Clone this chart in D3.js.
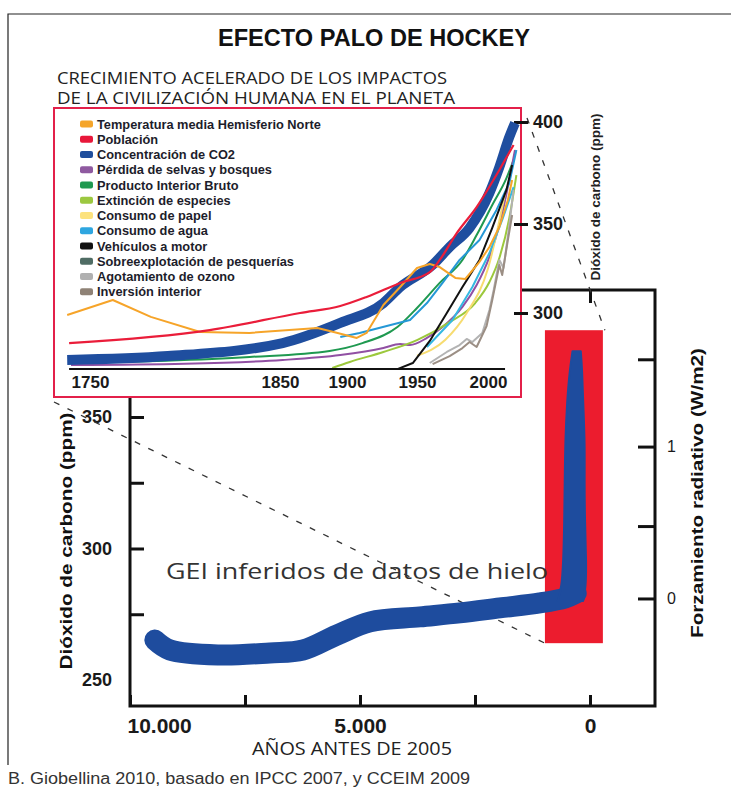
<!DOCTYPE html>
<html><head><meta charset="utf-8">
<script src="https://cdn.jsdelivr.net/npm/d3@7"></script>
<style>body{margin:0;background:#fff}svg{display:block}</style>
</head><body><svg id="c" width="731" height="795"></svg>
<script>
// ---------------- DATA ----------------
const title = "EFECTO PALO DE HOCKEY";
const subtitle = ["CRECIMIENTO ACELERADO DE LOS IMPACTOS", "DE LA CIVILIZACIÓN HUMANA EN EL PLANETA"];
const insetXTicks = [1750, 1850, 1900, 1950, 2000];
const insetYTicks = [300, 350, 400];
const mainXTicks = [10000, 7500, 5000, 2500, 0];
const mainXLabels = [10000, 5000, 0];
const mainYTicks = [250, 275, 300, 325, 350];
const mainYLabels = [250, 300, 350];
const forcingTicks = [0, 0.5, 1, 1.5];
const forcingLabels = [0, 1];

const legendNames = ["Temperatura media Hemisferio Norte","Población","Concentración de CO2","Pérdida de selvas y bosques","Producto Interior Bruto","Extinción de especies","Consumo de papel","Consumo de agua","Vehículos a motor","Sobreexplotación de pesquerías","Agotamiento de ozono","Inversión interior"];
const legendColors = ["#f5a52a","#e8173a","#1f4e9c","#8f5aa0","#1f9950","#9cc840","#fce27e","#2ea6e0","#111111","#4f6c64","#b0b0b0","#8f8276"];

// inset series (year, value on the CO2 ppm axis)
const tempYears = [1738,1762,1782,1808,1834,1878,1893,1907,1914,1926,1938,1950,1959,1966,1977,1984,1994,2001,2008,2014,2017];
const tempVals  = [298.9,307.3,297.8,289.3,288.8,291.6,288.8,286.0,288.8,304.5,314.6,325.3,327.5,325.8,319.7,319.1,328.7,337.1,348.3,361.8,371.6];
const popYears = [1739,1813,1865,1895,1914,1938,1959,1966,1978,1992,2008,2018];
const popVals  = [283.1,290.4,300,303.9,309.0,316.9,323.0,329.8,344.9,358.3,376.5,388.7];
const co2Years = [1738,1791,1852,1895,1926,1938,1961,1973,1987,2001,2008,2015,2019];
const co2Vals  = [273.6,275.8,283.1,294.4,305.6,314.6,327.0,337.1,347.8,365.2,377.9,392.6,399.5];
const forestYears = [1740,1800,1852,1895,1926,1938,1945,1957,1968,1982,1992,2001,2008,2015,2019];
const forestVals  = [270.8,271.5,273.6,276.4,280.3,282.6,282.0,286.0,292.1,303.4,315.7,331.5,349.4,371.6,386.3];
const gdpYears = [1739,1790,1834,1887,1911,1936,1950,1966,1982,1992,2003,2013,2018];
const gdpVals  = [272.0,273.2,275.3,278.7,283.1,292.1,302.8,316.9,329.8,343.8,359.3,372.5,381.4];
const extYears = [1889,1902,1926,1950,1973,1991,2001,2008,2015,2020];
const extVals  = [269.1,272.5,278.1,284.8,294.9,305.6,317.4,330.9,352.9,374.0];
const paperYears = [1950,1970,1985,2000,2012];
const paperVals  = [276,285,300,325,365];
const waterYears = [1895,1909,1945,1957,1968,1980,1994,2006,2015,2020];
const waterVals  = [286.5,288.8,296.1,305.6,316.9,329.8,341.0,356.9,370.1,386.3];
const vehYears = [1887,1936,1947,1959,1971,1982,1994,2003,2013,2017];
const vehVals  = [268.5,268.5,271.9,284.3,300,314.6,329.8,347.8,366.7,378.9];
const fishYears = [1957,1975,1989,2001,2010,2018];
const fishVals  = [280.9,296.1,314.6,333.7,352.0,368.1];
const ozoneYears = [1959,1971,1980,1985,1989,1996,2001,2004,2008,2011,2015,2018];
const ozoneVals  = [271.9,278.1,282.0,285.4,283.7,288.8,301.7,312.9,329.8,325.3,349.4,366.7];
const invYears = [1961,1973,1982,1987,1992,1999,2003,2008,2010,2014,2017];
const invVals  = [271.3,275.8,280.3,283.7,280.9,292.7,307.3,327.0,321.3,341.0,354.4];

// main chart: ice-core CO2 (years before 2005, ppm)
const iceYears = [9460,9130,8040,6960,6240,5500,4780,3700,2830,1960,1090,540,300];
const icePpm   = [265.2,261.4,259.5,260.3,261.4,267.1,272.1,274.0,275.5,277.4,279.3,281.2,283];
// industrial-era column: ppm levels with left / right extent (years before 2005)
const colPpm   = [280, 285, 295, 310, 325, 340, 356, 368, 375];
const colLeft  = [700, 620, 580, 560, 550, 540, 500, 440, 380];
const colRight = [150, 90, 80, 110, 120, 110, 150, 170, 200];
const highlightYears = [980, -280];
const highlightPpm = [264, 383];
const forcingRefPpm = 281;

// ---------------- DRAW ----------------
const svg = d3.select("#c");
const SANS = "'Liberation Sans', Arial, sans-serif";
const MYR = "'Open Sans', 'Noto Sans', sans-serif";
svg.append("rect").attr("width",731).attr("height",795).attr("fill","#fff");
svg.append("path").attr("d","M8,765 V14 H731").attr("fill","none").attr("stroke","#222").attr("stroke-width",1.2);

svg.append("text").attr("x",374).attr("y",46).attr("text-anchor","middle")
  .attr("font-family",SANS).attr("font-weight","bold").attr("font-size",23)
  .attr("textLength",312).attr("lengthAdjust","spacingAndGlyphs").attr("fill","#111").text(title);
svg.selectAll(".sub").data(subtitle).join("text").attr("class","sub")
  .attr("x",57).attr("y",(d,i)=>84+i*20).attr("font-family",MYR).attr("font-size",16).attr("fill","#222")
  .attr("textLength",(d,i)=>i?398:390).attr("lengthAdjust","spacingAndGlyphs").text(d=>d);

// main scales
const xM = d3.scaleLinear().domain([10000,0]).range([130,590]);
const yM = d3.scaleLinear().domain([250,350]).range([680,417]);
const fS = d3.scaleLinear().domain(forcingTicks).range(forcingTicks.map(f=>yM(forcingRefPpm*Math.exp(f/5.35))));
const fmt = d3.formatLocale({decimal:",",thousands:".",grouping:[3],currency:["",""]}).format(",");

// highlight rectangle
svg.append("rect").attr("x",xM(highlightYears[0])).attr("y",yM(highlightPpm[1]))
  .attr("width",xM(highlightYears[1])-xM(highlightYears[0])).attr("height",yM(highlightPpm[0])-yM(highlightPpm[1]))
  .attr("fill","#ec1c2e");

// frame
svg.append("rect").attr("x",130).attr("y",290).attr("width",525).attr("height",416)
  .attr("fill","none").attr("stroke","#111").attr("stroke-width",3);

function styleAxis(g, fs, weight){
  g.select(".domain").remove();
  g.selectAll(".tick line").attr("stroke","#111").attr("stroke-width",3);
  g.selectAll(".tick text").attr("font-family",SANS).attr("font-size",fs).attr("font-weight",weight).attr("fill","#1a1a1a");
}
const gB = svg.append("g").attr("transform","translate(0,706)")
  .call(d3.axisBottom(xM).tickValues(mainXTicks).tickSize(-11).tickPadding(12).tickFormat(d=>mainXLabels.includes(d)?fmt(d):""));
styleAxis(gB,21,"bold");
gB.selectAll(".tick text").filter(d=>d===10000).attr("text-anchor","start").attr("dx",-3);
const gT = svg.append("g").attr("transform","translate(0,290)")
  .call(d3.axisTop(xM).tickValues([0]).tickSize(-13).tickFormat(""));
styleAxis(gT,10,"normal");
const gL = svg.append("g").attr("transform","translate(130,0)")
  .call(d3.axisLeft(yM).tickValues(mainYTicks).tickSize(-14).tickPadding(18).tickFormat(d=>mainYLabels.includes(d)?d:""));
styleAxis(gL,18,"bold");
gL.selectAll(".tick").filter(d=>d===250).select("line").remove();
const gR = svg.append("g").attr("transform","translate(655,0)")
  .call(d3.axisRight(fS).tickValues(forcingTicks).tickSize(-17).tickPadding(12).tickFormat(d=>forcingLabels.includes(d)?d:""));
styleAxis(gR,16,"normal");

// axis titles
svg.append("text").attr("transform","translate(72,541) rotate(-90)").attr("text-anchor","middle")
  .attr("font-family",SANS).attr("font-weight","bold").attr("font-size",17).attr("fill","#111")
  .attr("textLength",257).attr("lengthAdjust","spacingAndGlyphs").text("Dióxido de carbono (ppm)");
svg.append("text").attr("transform","translate(703,493) rotate(-90)").attr("text-anchor","middle")
  .attr("font-family",SANS).attr("font-weight","bold").attr("font-size",17).attr("fill","#111")
  .attr("textLength",290).attr("lengthAdjust","spacingAndGlyphs").text("Forzamiento radiativo (W/m2)");
svg.append("text").attr("x",352).attr("y",755).attr("text-anchor","middle")
  .attr("font-family",MYR).attr("font-size",18).attr("fill","#222")
  .attr("textLength",200).attr("lengthAdjust","spacingAndGlyphs").text("AÑOS ANTES DE 2005");
svg.append("text").attr("x",8).attr("y",784).attr("font-family",SANS).attr("font-size",16).attr("fill","#333")
  .attr("textLength",462).attr("lengthAdjust","spacingAndGlyphs").text("B. Giobellina 2010, basado en IPCC 2007, y CCEIM 2009");

// inset geometry
const inset = {x:54, y:108, w:467, h:289};
const xI = d3.scaleLinear().domain(insetXTicks).range([90,280,347,417,488]);
const yI = d3.scaleLinear().domain(insetYTicks).range([313,224,122]);

// dashed connectors
const dash = [
  [[inset.x+inset.w+6, yI(402)], [xM(highlightYears[1])+2, yM(highlightPpm[1])]],
  [[inset.x, inset.y+inset.h+5], [xM(highlightYears[0]), yM(highlightPpm[0])]]
];
svg.selectAll(".dash").data(dash).join("line").attr("class","dash")
  .attr("x1",d=>d[0][0]).attr("y1",d=>d[0][1]).attr("x2",d=>d[1][0]).attr("y2",d=>d[1][1])
  .attr("stroke","#333").attr("stroke-width",1.3).attr("stroke-dasharray","6,9");

svg.append("text").attr("x",166).attr("y",579).attr("font-family",MYR).attr("font-size",21).attr("fill","#333")
  .attr("textLength",382).attr("lengthAdjust","spacingAndGlyphs").text("GEI inferidos de datos de hielo");

// ice core
const iceLine = d3.line().x(d=>xM(d[0])).y(d=>yM(d[1])).curve(d3.curveCatmullRom.alpha(0.5));
svg.append("path").datum(iceYears.map((y,i)=>[y,icePpm[i]])).attr("d",iceLine)
  .attr("fill","none").attr("stroke","#1e4c9e").attr("stroke-width",21)
  .attr("stroke-linejoin","round").attr("stroke-linecap","round");
const colArea = d3.area().y(d=>yM(d[0])).x0(d=>xM(d[1])).x1(d=>xM(d[2])).curve(d3.curveBasis);
svg.append("path").datum(colPpm.map((p,i)=>[p,colLeft[i],colRight[i]])).attr("d",colArea)
  .attr("fill","#1e4c9e").attr("stroke","#1e4c9e").attr("stroke-width",2).attr("stroke-linejoin","round");

// inset box
svg.append("rect").attr("x",inset.x).attr("y",inset.y).attr("width",inset.w).attr("height",inset.h)
  .attr("fill","#fff").attr("stroke","#e3204a").attr("stroke-width",2);

const gi = svg.append("g");
gi.append("line").attr("x1",xI(1739)).attr("x2",xI(2012)).attr("y1",369).attr("y2",369).attr("stroke","#111").attr("stroke-width",2);
const gIX = gi.append("g").attr("transform","translate(0,369)")
  .call(d3.axisBottom(xI).tickValues(insetXTicks).tickSize(0).tickPadding(7).tickFormat(d3.format("d")));
styleAxis(gIX,17,"bold");
const gIY = gi.append("g").attr("transform","translate(514,0)")
  .call(d3.axisRight(yI).tickValues(insetYTicks).tickSize(14).tickPadding(5));
styleAxis(gIY,18,"bold");
gi.append("text").attr("transform","translate(600,197) rotate(-90)").attr("text-anchor","middle")
  .attr("font-family",SANS).attr("font-weight","bold").attr("font-size",12.5).attr("fill","#222")
  .attr("textLength",167).attr("lengthAdjust","spacingAndGlyphs").text("Dióxido de carbono (ppm)");

// legend
const lg = gi.selectAll(".lg").data(legendNames).join("g").attr("class","lg")
  .attr("transform",(d,i)=>`translate(80,${124+i*15.25})`);
lg.append("rect").attr("x",0).attr("y",-3.5).attr("width",13).attr("height",7).attr("rx",2)
  .attr("fill",(d,i)=>legendColors[i]);
lg.append("text").attr("x",17).attr("y",4.5).attr("font-family",SANS).attr("font-weight","bold")
  .attr("font-size",12.8).attr("fill","#1d1d2b").text(d=>d);

// inset series
const smooth = d3.line().x(d=>xI(d[0])).y(d=>yI(d[1])).curve(d3.curveMonotoneX);
const straight = d3.line().x(d=>xI(d[0])).y(d=>yI(d[1]));
const zip = (a,b)=>a.map((v,i)=>[v,b[i]]);
const series = [
  {ys:gdpYears, vs:gdpVals, c:"#1f9950", w:2, gen:smooth},
  {ys:forestYears, vs:forestVals, c:"#9150a3", w:2, gen:smooth},
  {ys:co2Years, vs:co2Vals, c:"#1f4e9f", w:10, gen:smooth},
  {ys:extYears, vs:extVals, c:"#9cc83c", w:2, gen:smooth},
  {ys:paperYears, vs:paperVals, c:"#f7dc70", w:2, gen:smooth},
  {ys:fishYears, vs:fishVals, c:"#35b8e2", w:2, gen:straight},
  {ys:waterYears, vs:waterVals, c:"#2598d6", w:2, gen:straight},
  {ys:ozoneYears, vs:ozoneVals, c:"#b3b3b3", w:2, gen:straight},
  {ys:invYears, vs:invVals, c:"#9b8e84", w:2, gen:straight},
  {ys:vehYears, vs:vehVals, c:"#111111", w:2, gen:straight},
  {ys:tempYears, vs:tempVals, c:"#f6a429", w:2, gen:straight},
  {ys:popYears, vs:popVals, c:"#ea1d3a", w:2.2, gen:smooth}
];
series.forEach(s=>{
  gi.append("path").datum(zip(s.ys,s.vs)).attr("d",s.gen).attr("fill","none")
    .attr("stroke",s.c).attr("stroke-width",s.w).attr("stroke-linejoin","round");
});
</script></body></html>
